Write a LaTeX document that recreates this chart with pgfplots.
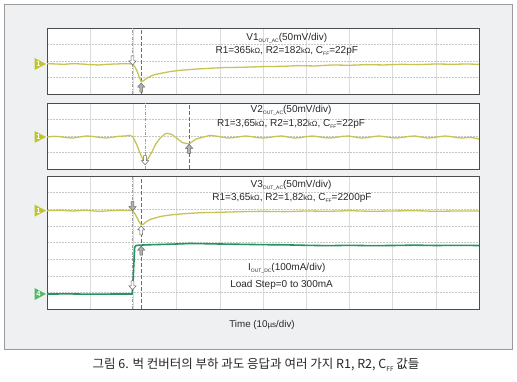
\documentclass[border=0pt]{standalone}
\usepackage{pgfplots}
\pgfplotsset{compat=1.18}
\usepackage{fontspec}
\setmainfont{Liberation Sans}
\newfontfamily\kr{Noto Sans CJK KR}

\definecolor{trY}{RGB}{199,196,84}
\definecolor{chY}{RGB}{190,196,45}
\definecolor{trG}{RGB}{36,148,96}
\definecolor{chG}{RGB}{85,185,105}
\definecolor{boxbg}{RGB}{238,240,241}
\definecolor{boxln}{RGB}{155,155,155}
\definecolor{txt}{RGB}{40,40,40}

\newcommand\sub[1]{\raisebox{-0.4ex}{\fontsize{5}{5}\selectfont #1}}
\newcommand\kohm{{\fontsize{7.5}{8}\selectfont kΩ}}

\pgfdeclareplotmark{dnarrow}{%
 \pgfpathmoveto{\pgfpoint{0pt}{0pt}}%
 \pgfpathlineto{\pgfpoint{-3.6pt}{4pt}}%
 \pgfpathlineto{\pgfpoint{-1.4pt}{4pt}}%
 \pgfpathlineto{\pgfpoint{-1.4pt}{9pt}}%
 \pgfpathlineto{\pgfpoint{1.4pt}{9pt}}%
 \pgfpathlineto{\pgfpoint{1.4pt}{4pt}}%
 \pgfpathlineto{\pgfpoint{3.6pt}{4pt}}%
 \pgfpathclose
 \pgfusepathqfillstroke}
\pgfdeclareplotmark{uparrow}{%
 \pgfpathmoveto{\pgfpoint{0pt}{0pt}}%
 \pgfpathlineto{\pgfpoint{-3.6pt}{-4pt}}%
 \pgfpathlineto{\pgfpoint{-1.4pt}{-4pt}}%
 \pgfpathlineto{\pgfpoint{-1.4pt}{-9pt}}%
 \pgfpathlineto{\pgfpoint{1.4pt}{-9pt}}%
 \pgfpathlineto{\pgfpoint{1.4pt}{-4pt}}%
 \pgfpathlineto{\pgfpoint{3.6pt}{-4pt}}%
 \pgfpathclose
 \pgfusepathqfillstroke}
\pgfdeclareplotmark{chone}{%
 \pgfpathmoveto{\pgfpoint{-12.5pt}{6pt}}%
 \pgfpathlineto{\pgfpoint{-1pt}{0pt}}%
 \pgfpathlineto{\pgfpoint{-12.5pt}{-6pt}}%
 \pgfpathclose
 \pgfusepathqfill
 \pgftext[at=\pgfpoint{-8.6pt}{0pt}]{\color{white}\fontsize{7.5}{7.5}\selectfont\bfseries 1}}
\pgfdeclareplotmark{chfour}{%
 \pgfpathmoveto{\pgfpoint{-12.5pt}{6pt}}%
 \pgfpathlineto{\pgfpoint{-1pt}{0pt}}%
 \pgfpathlineto{\pgfpoint{-12.5pt}{-6pt}}%
 \pgfpathclose
 \pgfusepathqfill
 \pgftext[at=\pgfpoint{-8.6pt}{0pt}]{\color{white}\fontsize{7.5}{7.5}\selectfont\bfseries 4}}

\tikzset{ptxt/.style={font=\fontsize{10}{12}\selectfont, text=txt, inner sep=0pt}}

\pgfplotsset{
 panel/.style={
  scale only axis, width=432pt, xmin=0, xmax=100,
  xtick={10,20,...,90}, xticklabels={}, yticklabels={},
  major tick length=0pt,
  xmajorgrids, ymajorgrids,
  x grid style={draw=gray!28, line width=0.5pt},
  y grid style={draw=gray!45, line width=0.5pt, dash pattern=on 1.5pt off 1.5pt},
  axis line style={draw=black!70, line width=0.9pt},
  axis background/.style={fill=white},
  clip=false,
 },
 ytr/.style={color=trY, line width=1.3pt, line join=round},
 gtr/.style={color=trG, line width=1.6pt, line join=round},
 cur1/.style={draw=gray!75, line width=0.7pt, dash pattern=on 3pt off 1.5pt on 0.8pt off 1.5pt},
 cur2/.style={draw=gray!85!black, line width=0.7pt, dash pattern=on 4pt off 2pt},
 wdn/.style={only marks, mark=dnarrow, mark options={draw=gray!80!black, fill=white, line width=0.5pt}},
 gdn/.style={only marks, mark=dnarrow, mark options={draw=gray!80!black, fill=gray!60, line width=0.5pt}},
 wup/.style={only marks, mark=uparrow, mark options={draw=gray!80!black, fill=white, line width=0.5pt}},
 gup/.style={only marks, mark=uparrow, mark options={draw=gray!80!black, fill=gray!60, line width=0.5pt}},
}

\begin{document}
\begin{tikzpicture}
\useasboundingbox (0,0) rectangle (517pt,381pt);
\fill[white] (0,0) rectangle (517pt,381pt);
\draw[fill=boxbg, draw=boxln, line width=0.9pt] (4pt,32pt) rectangle (512pt,377pt);

% ---------- Panel 1 ----------
\begin{axis}[panel, at={(47pt,287pt)}, anchor=south west, height=66pt,
  ymin=-2, ymax=2, ytick={-1,0,1}]
\addplot[cur1] coordinates {(19.8,-2) (19.8,2)};
\addplot[cur2] coordinates {(21.8,-2) (21.8,2)};
\addplot[ytr, y filter/.expression={y/50-0.18}] coordinates {
(0,1)(2,0)(4,-1)(6,1)(8,0)(10,-2)(12,-3)(14,-1)(16,0)(18,1)(19.8,0)
(20.3,-8)(20.8,-20)(21.3,-38)(21.8,-54)(22.3,-51)(23,-44)(24,-37)(25,-32)
(26.5,-28)(28.5,-23)(31,-19)(34,-16)(37.7,-13)(41,-11)(45,-10)(50,-8)
(55,-7)(58,-5)(62,-6)(66,-3)(70,-4)(74,-2)(78,-3)(82,-1)(86,-2)(90,0)
(94,-1)(97,0)(100,-1)};
\addplot[wdn, y filter/.expression={y/50-0.18}] coordinates {(19.8,-3)};
\addplot[gup, y filter/.expression={y/50-0.18}] coordinates {(21.8,-58)};
\addplot[only marks, mark=chone, mark options={fill=chY, draw=none}, y filter/.expression={y/50-0.18}] coordinates {(0,0)};
\node[ptxt] at (rel axis cs:0.555,0.84) {V1\sub{OUT\_AC}(50mV/div)};
\node[ptxt] at (rel axis cs:0.555,0.645) {R1=365\kohm, R2=182\kohm, C\sub{FF}=22pF};
\end{axis}

% ---------- Panel 2 ----------
\begin{axis}[panel, at={(47pt,212pt)}, anchor=south west, height=66pt,
  ymin=-2, ymax=2, ytick={-1,0,1}]
\addplot[cur1] coordinates {(22.7,-2) (22.7,2)};
\addplot[cur2] coordinates {(32.9,-2) (32.9,2)};
\addplot[ytr, y filter/.expression={y/50-0.06}] coordinates {
(0,0)(1.5,2)(3,1)(4.5,-2)(6,-3)(7.5,0)(9,3)(10.5,2)(12,-1)(13.5,-3)(15,-1)
(16.5,2)(18,3)(19.2,5)(19.9,0)(20.8,-24)(21.5,-48)(22.2,-68)(22.7,-75)
(23.4,-65)(24.3,-45)(25.2,-21)(26.2,-3)(27.5,11)(28.7,9)(29.6,1)(31.3,-17)
(32.9,-21)(34.5,-6)(36.6,1)(37.7,5)(39,3)(40.4,0)(41.8,-3)(43.2,-2)(44.6,1)
(46,3)(47.4,1)(48.8,-2)(50.2,-3)(51.6,-1)(53,2)(54.4,3)(55.8,0)(57.2,-3)
(58.6,-2)(60,1)(61.4,3)(62.8,1)(64.2,-2)(65.6,-3)(67,-1)(68.4,2)(69.8,3)
(71.2,0)(72.6,-3)(74,-2)(75.4,1)(76.8,3)(78.2,1)(79.6,-2)(81,-3)(82.4,-1)
(83.8,2)(85.2,3)(86.6,0)(88,-3)(89.4,-2)(90.8,1)(92.2,3)(93.6,1)(95,-2)
(96.4,-3)(97.8,-1)(99,-3)(100,-6)};
\addplot[wdn, y filter/.expression={y/50-0.06}] coordinates {(22.7,-84)};
\addplot[gup, y filter/.expression={y/50-0.06}] coordinates {(32.9,-22)};
\addplot[only marks, mark=chone, mark options={fill=chY, draw=none}, y filter/.expression={y/50-0.06}] coordinates {(0,0)};
\node[ptxt] at (rel axis cs:0.565,0.885) {V2\sub{OUT\_AC}(50mV/div)};
\node[ptxt] at (rel axis cs:0.565,0.675) {R1=3,65\kohm, R2=1,82\kohm, C\sub{FF}=22pF};
\end{axis}

% ---------- Panel 3 ----------
\begin{axis}[panel, at={(47pt,72pt)}, anchor=south west, height=133pt,
  ymin=-4, ymax=4, ytick={-3,-2,...,3}]
\addplot[cur1] coordinates {(19.8,-4) (19.8,4)};
\addplot[cur2] coordinates {(21.8,-4) (21.8,4)};
\addplot[ytr, y filter/.expression={y/50+1.916}] coordinates {
(0,0)(3,1)(6,-1)(9,1)(12,-2)(15,0)(17,1)(19.8,0)(20.3,-8)(20.8,-20)
(21.3,-33)(21.8,-43)(22.3,-41)(23,-33)(23.8,-27)(25,-22)(26.5,-17)
(28.5,-13)(31,-10)(33.1,-8)(36,-6)(40,-5)(45,-3)(50,-2)(55,-3)(60,-1)
(65,-2)(70,0)(75,-2)(80,-1)(85,0)(90,-2)(95,-1)(100,-1)};
\addplot[gtr, y filter/.expression={y/100-3.1}] coordinates {
(0,0)(5,1)(10,-1)(15,0)(19.7,0)(19.9,60)(20.1,180)(20.3,280)(20.6,292)
(21.5,294)(23,296)(26,298)(30,301)(33,304)(36,303)(40,301)(45,299)(50,297)
(55,296)(60,293)(65,291)(70,293)(75,291)(80,292)(85,294)(90,292)(95,293)(100,292)};
\addplot[gdn, y filter/.expression={y/50+1.916}] coordinates {(19.8,0)};
\addplot[wup, y filter/.expression={y/50+1.916}] coordinates {(21.8,-46)};
\addplot[wdn, y filter/.expression={y/100-3.1}] coordinates {(19.8,25)};
\addplot[gup, y filter/.expression={y/100-3.1}] coordinates {(21.8,288)};
\addplot[only marks, mark=chone, mark options={fill=chY, draw=none}, y filter/.expression={y/50+1.916}] coordinates {(0,0)};
\addplot[only marks, mark=chfour, mark options={fill=chG, draw=none}, y filter/.expression={y/100-3.1}] coordinates {(0,0)};
\node[ptxt] at (rel axis cs:0.565,0.932) {V3\sub{OUT\_AC}(50mV/div)};
\node[ptxt] at (rel axis cs:0.567,0.835) {R1=3,65\kohm, R2=1,82\kohm, C\sub{FF}=2200pF};
\node[ptxt] at (rel axis cs:0.555,0.308) {I\sub{OUT\_DC}(100mA/div)};
\node[ptxt] at (rel axis cs:0.543,0.18) {Load Step=0 to 300mA};
\end{axis}

\node[ptxt, font=\fontsize{9.8}{12}\selectfont] at (262pt,56pt) {Time (10{\fontsize{8}{9}\selectfont µs}/div)};
\node[text=black!85, inner sep=0pt, font=\kr\fontsize{12.5}{14}\selectfont] at (256pt,16pt)
 {그림 6. 벅 컨버터의 부하 과도 응답과 여러 가지 R1, R2, C\raisebox{-0.4ex}{\fontsize{6.5}{6.5}\selectfont FF} 값들};
\end{tikzpicture}
\end{document}
